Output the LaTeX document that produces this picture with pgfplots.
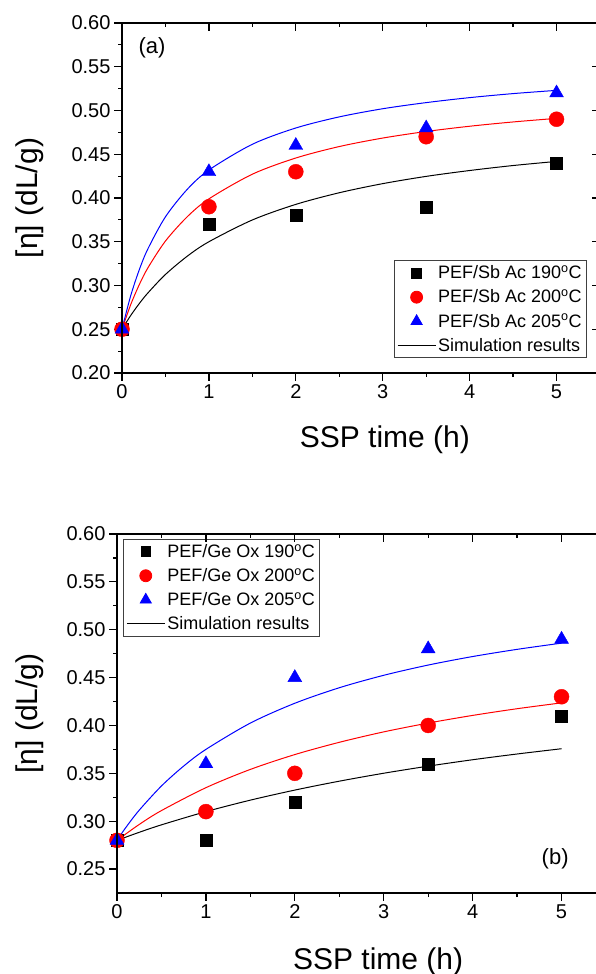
\documentclass[border=0pt]{standalone}
\usepackage{fontspec}
\setmainfont{Liberation Sans}
\usepackage{pgfplots}
\pgfplotsset{compat=1.18}

\pgfplotsset{
  sspbase/.style={
    scale only axis,
    anchor=south west,
    xmin=0, xmax=5.5,
    xtick={0,1,2,3,4,5},
    minor x tick num=1, minor y tick num=1,
    major tick length=8pt, minor tick length=4pt,
    every tick/.style={black, line width=1.2pt},
    axis line style={line width=1.4pt},
    tick label style={font=\fontsize{20}{24}\selectfont},
    /pgf/number format/assume math mode=true,
    yticklabel style={/pgf/number format/.cd, fixed, fixed zerofill, precision=2},
    label style={font=\fontsize{30}{34}\selectfont},
    legend image code/.code={\draw[mark repeat=2,mark phase=2,##1] plot coordinates {(0pt,0pt) (19pt,0pt) (38pt,0pt)};},
    legend style={font=\fontsize{18}{20}\selectfont, draw=black!75, line width=0.8pt,
      inner xsep=3pt, inner ysep=3pt, row sep=5.5pt},
    legend cell align=left,
  },
  mk/.style={only marks,
    legend image code/.code={\draw[mark repeat=2,mark phase=2,##1,mark options={scale=0.8}] plot coordinates {(0pt,0pt) (19pt,0pt) (38pt,0pt)};}},
  sim/.style={no marks, line width=1pt, smooth, forget plot},
}

\begin{document}
\begin{tikzpicture}

% ---------- panel (a) ----------
\begin{axis}[sspbase, at={(122pt,601pt)}, width=478pt, height=350pt,
  ymin=0.20, ymax=0.60,
  ytick={0.20,0.25,0.30,0.35,0.40,0.45,0.50,0.55,0.60},
  tick align=outside, xtick pos=left, ytick pos=left,
  xlabel={SSP time (h)},
  xlabel style={at={(axis description cs:0.55,0)}, anchor=base, yshift=-75pt},
  ylabel={[η] (dL/g)},
  ylabel style={at={(axis description cs:-0.1925,0.5)}, anchor=center},
  legend style={at={(0.973,0.043)}, anchor=south east},
]
\addplot[sim, black] coordinates {(0,0.25) (0.1,0.2657) (0.2,0.2795) (0.3,0.2917) (0.5,0.3126) (0.75,0.3334) (1,0.35) (1.5,0.3749) (2,0.3927) (2.5,0.406) (3,0.4164) (3.5,0.4247) (4,0.4314) (4.5,0.4371) (5,0.4418)};
\addplot[sim, red] coordinates {(0,0.25) (0.1,0.2781) (0.2,0.3012) (0.3,0.3205) (0.5,0.3508) (0.75,0.3785) (1,0.399) (1.5,0.4272) (2,0.4457) (2.5,0.4588) (3,0.4685) (3.5,0.476) (4,0.482) (4.5,0.4869) (5,0.491)};
\addplot[sim, blue] coordinates {(0,0.25) (0.1,0.2883) (0.2,0.3183) (0.3,0.3423) (0.5,0.3785) (0.75,0.4098) (1,0.432) (1.5,0.4614) (2,0.48) (2.5,0.4927) (3,0.502) (3.5,0.509) (4,0.5147) (4.5,0.5193) (5,0.523)};
\addplot[mk, mark=square*, mark size=6pt, black] coordinates {(0,0.25) (1,0.37) (2,0.38) (3.5,0.39) (5,0.44)};
\addlegendentry{PEF/Sb Ac 190\textsuperscript{o}C}
\addplot[mk, mark=*, mark size=7.5pt, red] coordinates {(0,0.25) (1,0.39) (2,0.43) (3.5,0.47) (5,0.49)};
\addlegendentry{PEF/Sb Ac 200\textsuperscript{o}C}
\addplot[mk, mark=triangle*, mark size=8pt, blue] coordinates {(0,0.25) (1,0.43) (2,0.46) (3.5,0.48) (5,0.52)};
\addlegendentry{PEF/Sb Ac 205\textsuperscript{o}C}
\addlegendimage{black, line width=1pt}
\addlegendentry{Simulation results}
\node[font=\fontsize{22}{26}\selectfont] at (rel axis cs:0.063,0.929) {(a)};
\end{axis}
\begin{axis}[sspbase, at={(122pt,601pt)}, width=478pt, height=350pt,
  ymin=0.20, ymax=0.60,
  ytick={0.20,0.25,0.30,0.35,0.40,0.45,0.50,0.55,0.60},
  tick align=inside, xtick pos=right, ytick pos=right,
  xticklabels={}, yticklabels={},
]
\end{axis}

% ---------- panel (b) ----------
\begin{axis}[sspbase, at={(117pt,81pt)}, width=489pt, height=359pt,
  ymin=0.225, ymax=0.60,
  ytick={0.25,0.30,0.35,0.40,0.45,0.50,0.55,0.60},
  tick align=outside, xtick pos=left, ytick pos=left,
  xlabel={SSP time (h)},
  xlabel style={at={(axis description cs:0.534,0)}, anchor=base, yshift=-76pt},
  ylabel={[η] (dL/g)},
  ylabel style={at={(axis description cs:-0.178,0.5)}, anchor=center},
  legend style={at={(0.012,0.986)}, anchor=north west},
]
\addplot[sim, black] coordinates {(0,0.28) (0.25,0.2884) (0.5,0.2962) (1,0.31) (1.5,0.322) (2,0.3325) (2.5,0.3418) (3,0.3501) (3.5,0.3575) (4,0.3642) (4.5,0.3702) (5,0.3757)};
\addplot[sim, red] coordinates {(0,0.28) (0.25,0.2966) (0.5,0.3111) (1,0.335) (1.5,0.3541) (2,0.3696) (2.5,0.3824) (3,0.3933) (3.5,0.4025) (4,0.4105) (4.5,0.4175) (5,0.4236)};
\addplot[sim, blue] coordinates {(0,0.28) (0.1,0.2935) (0.25,0.3115) (0.5,0.3368) (0.75,0.3576) (1,0.375) (1.5,0.4025) (2,0.4232) (2.5,0.4394) (3,0.4524) (3.5,0.4631) (4,0.472) (4.5,0.4795) (5,0.486)};
\addplot[mk, mark=square*, mark size=6pt, black] coordinates {(0,0.28) (1,0.28) (2,0.32) (3.5,0.36) (5,0.41)};
\addlegendentry{PEF/Ge Ox 190\textsuperscript{o}C}
\addplot[mk, mark=*, mark size=7.5pt, red] coordinates {(0,0.28) (1,0.31) (2,0.35) (3.5,0.40) (5,0.43)};
\addlegendentry{PEF/Ge Ox 200\textsuperscript{o}C}
\addplot[mk, mark=triangle*, mark size=8pt, blue] coordinates {(0,0.28) (1,0.36) (2,0.45) (3.5,0.48) (5,0.49)};
\addlegendentry{PEF/Ge Ox 205\textsuperscript{o}C}
\addlegendimage{black, line width=1pt}
\addlegendentry{Simulation results}
\node[font=\fontsize{22}{26}\selectfont] at (rel axis cs:0.896,0.095) {(b)};
\end{axis}
\begin{axis}[sspbase, at={(117pt,81pt)}, width=489pt, height=359pt,
  ymin=0.225, ymax=0.60,
  ytick={0.25,0.30,0.35,0.40,0.45,0.50,0.55,0.60},
  tick align=inside, xtick pos=right, ytick pos=right,
  xticklabels={}, yticklabels={},
]
\end{axis}

\pgfresetboundingbox
\path[use as bounding box] (0pt,0pt) rectangle (595pt,974pt);
\end{tikzpicture}
\end{document}
